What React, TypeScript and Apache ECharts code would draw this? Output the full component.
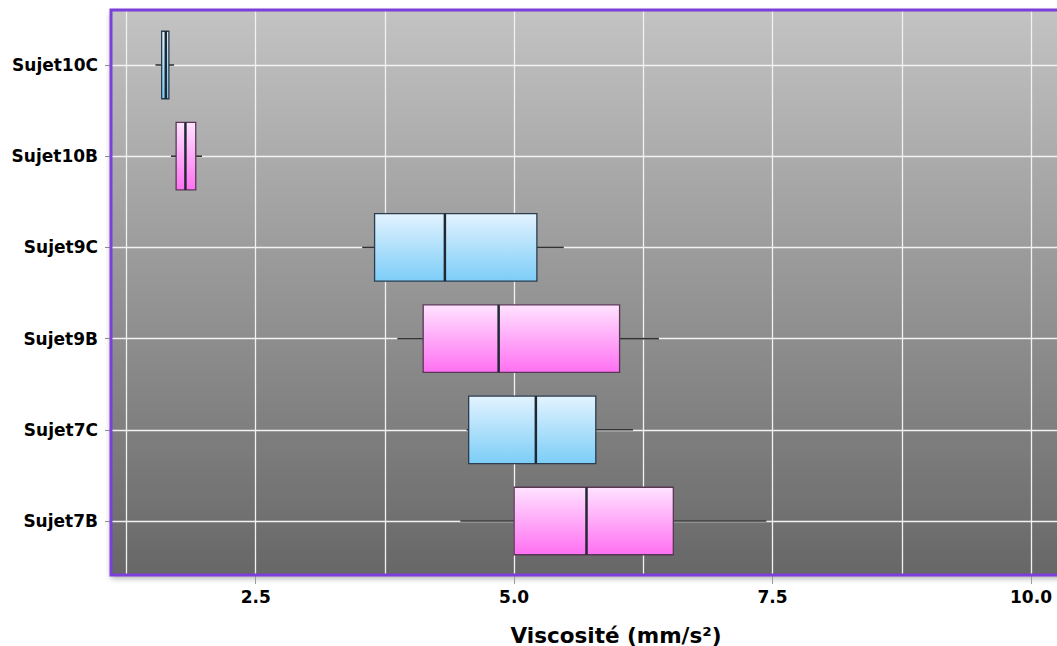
import React, { useEffect, useRef } from "react";
import * as echarts from "echarts";

const categories = ["Sujet10C", "Sujet10B", "Sujet9C", "Sujet9B", "Sujet7C", "Sujet7B"];
const whiskerLow = [1.53, 1.68, 3.53, 3.87, 4.54, 4.48];
const q1 = [1.59, 1.73, 3.65, 4.12, 4.56, 5.0];
const median = [1.63, 1.82, 4.33, 4.85, 5.21, 5.7];
const q3 = [1.66, 1.92, 5.22, 6.02, 5.79, 6.54];
const whiskerHigh = [1.71, 1.98, 5.48, 6.4, 6.15, 7.44];
const xTickValues = [0, 2.5, 5, 7.5, 10];
const axisTitle = "Viscosité (mm/s²)";

const FONT = "'DejaVu Sans', sans-serif";

export default function App() {
  const ref = useRef<HTMLDivElement>(null);
  useEffect(() => {
    const chart = echarts.init(ref.current!, null, { renderer: "svg" });
    const data = categories.map((c, i) => [i, whiskerLow[i], q1[i], median[i], q3[i], whiskerHigh[i]]);

    const blueFill = () =>
      new echarts.graphic.LinearGradient(0, 0, 0, 1, [
        { offset: 0, color: "#e3f3ff" },
        { offset: 1, color: "#7ccdf7" },
      ]);
    const pinkFill = () =>
      new echarts.graphic.LinearGradient(0, 0, 0, 1, [
        { offset: 0, color: "#ffe3ff" },
        { offset: 1, color: "#ff70f2" },
      ]);

    chart.setOption({
      animation: false,
      graphic: [
        {
          type: "rect",
          z: -1,
          shape: { x: 111, y: 10, width: 1100, height: 565 },
          style: {
            fill: new echarts.graphic.LinearGradient(0, 0, 0, 1, [
              { offset: 0, color: "#c3c3c3" },
              { offset: 1, color: "#676767" },
            ]),
            shadowColor: "rgba(0,0,0,0.35)",
            shadowBlur: 6,
            shadowOffsetY: 3,
          },
        },
        {
          type: "rect",
          z: 100,
          silent: true,
          shape: { x: 111, y: 10, width: 1100, height: 565 },
          style: { fill: "none", stroke: "#7c3fd9", lineWidth: 3 },
        },
        {
          type: "text",
          z: 100,
          x: 616,
          y: 635,
          style: {
            text: axisTitle,
            fill: "#000",
            font: `bold 21.5px ${FONT}`,
            textAlign: "center",
            textVerticalAlign: "middle",
          },
        },
      ],
      grid: [
        { left: 111, right: -103.2, top: 65, bottom: 125, outerBoundsMode: "none", containLabel: false },
        { left: -2.73, right: -103.2, top: 10, bottom: 71, outerBoundsMode: "none", containLabel: false },
      ],
      xAxis: [
        { gridIndex: 0, type: "value", min: 1.1, max: 11.25, show: false },
        {
          gridIndex: 1,
          type: "value",
          min: 0,
          max: 11.25,
          interval: 1.25,
          position: "bottom",
          axisLine: { show: false },
          axisTick: { show: false },
          axisLabel: { show: false },
          splitLine: { show: true, lineStyle: { color: "#f2f2f2", width: 1.3 } },
        },
        {
          gridIndex: 1,
          type: "value",
          min: 0,
          max: 11.25,
          interval: 2.5,
          position: "bottom",
          axisLine: { show: false },
          axisTick: { show: true, length: 9, lineStyle: { color: "#9a9a9a", width: 1 } },
          splitLine: { show: false },
          axisLabel: {
            margin: 13,
            color: "#000",
            fontFamily: FONT,
            fontWeight: "bold",
            fontSize: 17,
            formatter: (v: number) => (xTickValues.includes(v) && v !== 0 ? v.toFixed(1) : ""),
          },
        },
      ],
      yAxis: [
        {
          gridIndex: 0,
          type: "category",
          data: categories,
          inverse: true,
          boundaryGap: false,
          axisLine: { show: false },
          axisTick: { show: true, length: 6, lineStyle: { color: "#8a8a8a" } },
          axisLabel: {
            margin: 13,
            color: "#000",
            fontFamily: FONT,
            fontWeight: "bold",
            fontSize: 17,
          },
          splitLine: { show: true, lineStyle: { color: "#f2f2f2", width: 1.3 } },
        },
        { gridIndex: 1, type: "value", min: 0, max: 1, show: false },
      ],
      series: [
        {
          type: "custom",
          xAxisIndex: 0,
          yAxisIndex: 0,
          z: 5,
          encode: { x: [1, 2, 3, 4, 5], y: 0 },
          data,
          renderItem: (params: any, api: any) => {
            const idx = api.value(0);
            const pLo = api.coord([api.value(1), idx]);
            const pQ1 = api.coord([api.value(2), idx]);
            const pMed = api.coord([api.value(3), idx]);
            const pQ3 = api.coord([api.value(4), idx]);
            const pHi = api.coord([api.value(5), idx]);
            const h = api.size([0, 1])[1] * 0.74;
            const y = pLo[1];
            const isC = categories[idx].endsWith("C");
            const edge = isC ? "#2b3d4f" : "#5a3757";
            return {
              type: "group",
              children: [
                {
                  type: "line",
                  shape: { x1: pLo[0], y1: y, x2: pQ1[0], y2: y },
                  style: { stroke: "#333", lineWidth: 1.6 },
                },
                {
                  type: "line",
                  shape: { x1: pQ3[0], y1: y, x2: pHi[0], y2: y },
                  style: { stroke: "#333", lineWidth: 1.6 },
                },
                {
                  type: "rect",
                  shape: { x: pQ1[0], y: y - h / 2, width: pQ3[0] - pQ1[0], height: h },
                  style: { fill: isC ? blueFill() : pinkFill(), stroke: edge, lineWidth: 1.3 },
                },
                {
                  type: "line",
                  shape: { x1: pMed[0], y1: y - h / 2, x2: pMed[0], y2: y + h / 2 },
                  style: { stroke: "#1f2933", lineWidth: 2.5 },
                },
              ],
            };
          },
        },
        { type: "line", xAxisIndex: 1, yAxisIndex: 1, data: [], silent: true },
      ],
    });
    return () => chart.dispose();
  }, []);
  return (
    <div
      ref={ref}
      style={{ position: "absolute", left: 0, top: 0, width: 1057, height: 646 }}
    />
  );
}
